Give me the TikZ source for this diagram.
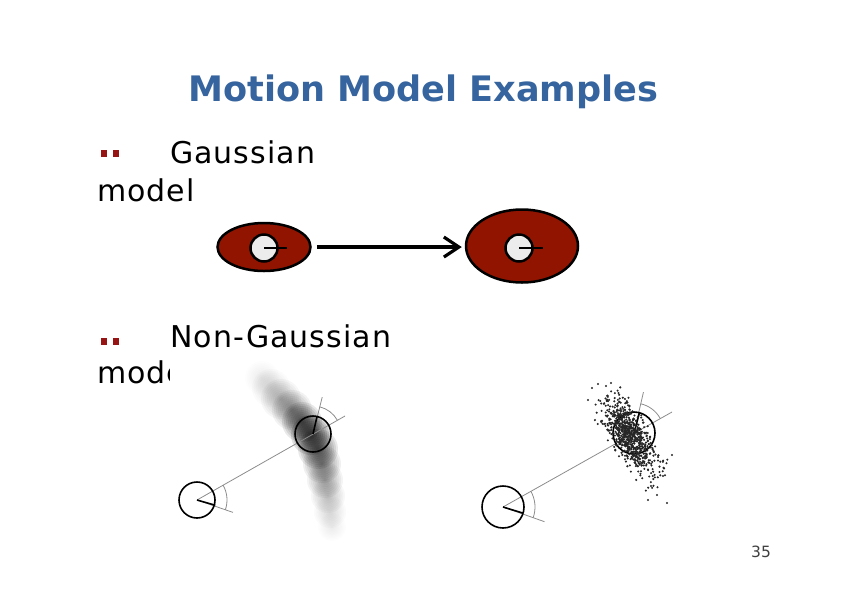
\documentclass[tikz,border=0pt]{standalone}
\usepackage{fontspec}
\setmainfont{DejaVu Sans}
\newfontfamily\bodyfont[LetterSpace=3.5]{DejaVu Sans}
\usetikzlibrary{shapes.geometric,arrows.meta}
\definecolor{titleblue}{RGB}{54,100,158}
\definecolor{ellred}{RGB}{145,20,0}
\definecolor{bulred}{RGB}{150,20,20}
\definecolor{robotgray}{RGB}{236,236,236}
\begin{document}
\begin{tikzpicture}[x=1pt,y=1pt,
  txt/.style={font=\bodyfont\fontsize{30}{36}\selectfont, anchor=base west, inner sep=0},
  bullet/.style={fill=bulred},
  ell/.style={ellipse, draw, line width=2.5, fill=ellred, inner sep=0},
  gbot/.style={circle, draw, line width=2.5, fill=robotgray, minimum size=27, inner sep=0},
  gdir/.style={line width=2},
  robot/.style={circle, draw, line width=1.6, inner sep=0},
  gline/.style={draw=black!45, line width=0.8},
  hline/.style={draw=black, line width=1.6},
  dot/.style={fill=black!85}]
\useasboundingbox (0,0) rectangle (842,-595);

% title
\node[anchor=base west, font=\fontsize{35.1}{40}\selectfont\bfseries, text=titleblue, inner sep=0] (title) at (188,-101) {Motion Model Examples};

% bullets and texts
\fill[bullet] (100.5,-149.5) rectangle (107,-157);
\fill[bullet] (112.5,-149.5) rectangle (119,-157);
\node[txt] (gt) at (170,-163) {Gaussian};
\node[txt] (gm) at (97,-201) {model};
\fill[bullet] (100.5,-337.5) rectangle (107,-345);
\fill[bullet] (112.5,-337.5) rectangle (119,-345);
\node[txt] (ngt) at (170,-347) {Non-Gaussian};
\node[txt] (ngm) at (97,-383) {model};

% Gaussian model
\node[ell, minimum width=93, minimum height=48] (e1) at (264,-247) {};
\node[ell, minimum width=112, minimum height=73] (e2) at (522,-246) {};
\node[gbot] (r1) at (264,-248) {};
\node[gbot] (r2) at (519,-248) {};
\draw[gdir] (r1.center) -- ++(23,0);
\draw[gdir] (r2.center) -- ++(24,0);
\draw[line width=3.2, -{Straight Barb[length=15pt,width=20pt]}, shorten <=5pt, shorten >=3pt] (e1.east) -- (e1.east -| e2.west);

% Non-Gaussian left (blurred)
\fill[white] (170,-356) rectangle (200,-540);
\foreach \x/\y/\r/\o in {262/378/17/0.09, 271/388/19/0.16, 281/399/20/0.26, 292/410/20/0.42, 302/422/20/0.62, 311/435/20/0.72, 318/449/20/0.60, 322/464/19/0.45, 325/480/18/0.35, 328/496/17/0.25, 330/512/16/0.15, 332/527/14/0.07}{
  \pgfmathsetmacro\aa{1-(1-\o)^(0.1)}
  \foreach \k in {1,...,10}
    \fill[black, fill opacity=\aa] (\x,-\y) circle ({\r*\k/10});
}

\coordinate (a1) at (197,-500);
\coordinate (b1) at (313,-434);
\coordinate (c1) at (345,-416);
\draw[gline] (a1) -- (c1);
\draw[gline] (a1) -- ++(-19:38);
\draw[gline] (a1) ++(-19:30) arc[start angle=-19, end angle=29.6, radius=30];
\draw[hline] (a1) -- ++(-16:19);
\node[robot, minimum size=36] (ra1) at (a1) {};
\draw[gline] (b1) -- ++(76:38);
\draw[gline] (b1) ++(29.6:28) arc[start angle=29.6, end angle=76, radius=28];
\draw[hline] (b1) -- ++(77:18);
\node[robot, minimum size=36] (rb1) at (b1) {};

% Non-Gaussian right (particles)
\coordinate (a2) at (503,-507);
\coordinate (b2) at (634,-433);
\coordinate (c2) at (672,-412);
\draw[gline] (a2) -- (c2);
\draw[gline] (a2) -- ++(-19.5:44);
\draw[gline] (a2) ++(-19.5:32) arc[start angle=-19.5, end angle=29.5, radius=32];
\draw[hline] (a2) -- ++(-17:21);
\node[robot, minimum size=42] (ra2) at (a2) {};
\draw[gline] (b2) -- ++(77:42);
\draw[gline] (b2) ++(29.5:30) arc[start angle=29.5, end angle=77, radius=30];
\draw[hline] (b2) -- ++(75:21);
\node[robot, minimum size=42] (rb2) at (b2) {};

\pgfmathsetseed{7}
\foreach \i in {1,...,560}{
  \pgfmathsetmacro\tt{(rand+rand+rand)/3*2.9}
  \pgfmathsetmacro\ss{(rand+rand+rand)/3*2.5}
  \pgfmathsetmacro\px{629+\tt*12+\ss*9+0.9*\tt*\tt}
  \pgfmathsetmacro\py{-437-\tt*21+\ss*5}
  \fill[dot] (\px,\py) circle (1.15);
}
\foreach \i in {1,...,220}{
  \pgfmathsetmacro\tt{(rand+rand)/2*1.3}
  \pgfmathsetmacro\ss{(rand+rand)/2*1.6}
  \pgfmathsetmacro\px{630+\tt*12+\ss*9}
  \pgfmathsetmacro\py{-434-\tt*21+\ss*5}
  \fill[dot] (\px,\py) circle (1.15);
}
\foreach \px/\py in {592/388, 598/384, 606/386, 611/383, 657/495, 667/503, 651/486, 663/476, 672/455, 588/400, 648/500}
  \fill[dot] (\px,-\py) circle (1.15);

% page number
\node[anchor=base west, font=\fontsize{15.5}{18}\selectfont, text=black!75, inner sep=0] (pn) at (751,-557) {35};
\end{tikzpicture}
\end{document}
